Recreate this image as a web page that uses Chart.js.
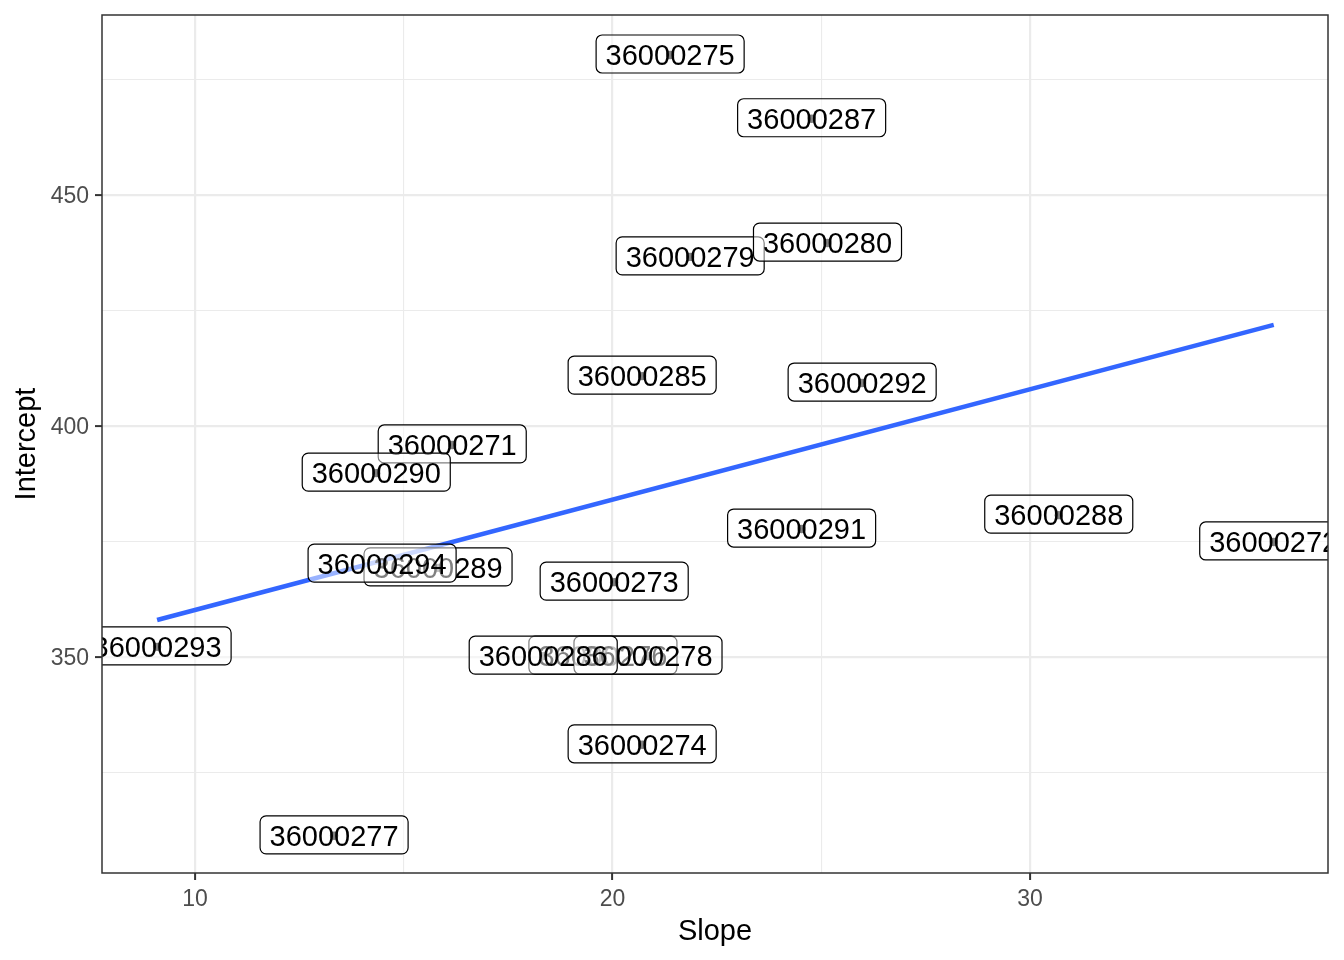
<!DOCTYPE html>
<html>
<head>
<meta charset="utf-8">
<script src="https://cdn.jsdelivr.net/npm/chart.js@4.4.1/dist/chart.umd.min.js"></script>
<style>
  body { margin: 0; background: #fff; }
  canvas { display: block; }
</style>
</head>
<body>
<canvas id="slopeChart" width="1344" height="960"></canvas>
<script>
// one label per station, in id order (later ids are drawn on top)
const ids = [
  '36000271', '36000272', '36000273', '36000274', '36000275',
  '36000276', '36000277', '36000278', '36000279', '36000280',
  '36000285', '36000286', '36000287', '36000288', '36000289',
  '36000290', '36000291', '36000292', '36000293', '36000294'
];
const slopes = [
  16.16, 35.84, 20.04, 20.71, 21.38,
  19.77, 13.33, 20.85, 21.86, 25.15,
  20.71, 18.34, 24.77, 30.69, 15.82,
  14.34, 24.53, 25.98, 9.09, 14.48
];
const intercepts = [
  395.9, 374.9, 366.2, 331.0, 480.3,
  350.2, 311.3, 350.2, 436.6, 439.6,
  410.8, 350.2, 466.5, 380.7, 369.3,
  389.8, 377.7, 409.3, 352.2, 370.1
];

// ends of the fitted line
const fitSlope = [9.09, 35.84];
const fitIntercept = [358.0, 421.9];

const xTicks = [10, 20, 30];
const yTicks = [350, 400, 450];

const FONT = '"Liberation Sans", Arimo, Helvetica, Arial, sans-serif';

function keepFives(step) {
  return function (scale) {
    scale.ticks = scale.ticks.filter(t => Math.abs(t.value / step - Math.round(t.value / step)) < 1e-9);
  };
}

function noPad(scale) {
  scale.paddingTop = 0; scale.paddingBottom = 0;
  scale.paddingLeft = 0; scale.paddingRight = 0;
}

const labelPlugin = {
  id: 'boxLabels',
  afterDatasetsDraw(chart) {
    const ctx = chart.ctx;
    const area = chart.chartArea;
    const meta = chart.getDatasetMeta(0);
    ctx.save();
    ctx.beginPath();
    ctx.rect(area.left, area.top, area.right - area.left, area.bottom - area.top);
    ctx.clip();
    ctx.font = '29px ' + FONT;
    ctx.textAlign = 'center';
    ctx.textBaseline = 'middle';
    meta.data.forEach((pt, i) => {
      const text = ids[i];
      const w = ctx.measureText(text).width + 19;
      const h = 38;
      ctx.beginPath();
      ctx.roundRect(pt.x - w / 2, pt.y - h / 2 - 1, w, h, 6);
      ctx.fillStyle = 'rgba(255,255,255,0.5)';
      ctx.fill();
      ctx.lineWidth = 1.2;
      ctx.strokeStyle = '#000';
      ctx.stroke();
      ctx.fillStyle = '#000';
      ctx.fillText(text, pt.x, pt.y + 2);
    });
    ctx.restore();
  },
  afterDraw(chart) {
    const ctx = chart.ctx;
    const a = chart.chartArea;
    ctx.save();
    ctx.strokeStyle = '#333333';
    ctx.lineWidth = 1.5;
    ctx.strokeRect(a.left, a.top, a.right - a.left, a.bottom - a.top);
    ctx.restore();
  }
};

const chart = new Chart(document.getElementById('slopeChart'), {
  type: 'scatter',
  data: {
    datasets: [{
      label: 'stations',
      data: slopes.map((s, i) => ({ x: s, y: intercepts[i] })),
      backgroundColor: '#000',
      borderWidth: 0,
      pointRadius: 4.2,
      order: 2
    }, {
      type: 'line',
      label: 'fit',
      data: fitSlope.map((s, i) => ({ x: s, y: fitIntercept[i] })),
      borderColor: '#3366FF',
      borderWidth: 4.5,
      pointRadius: 0,
      fill: false,
      order: 1
    }]
  },
  options: {
    responsive: false,
    devicePixelRatio: 1,
    animation: false,
    layout: { padding: { top: 15, right: 16, left: 0, bottom: 0 } },
    plugins: {
      legend: { display: false },
      tooltip: { enabled: false }
    },
    scales: {
      x: {
        type: 'linear',
        min: 7.77,
        max: 37.14,
        afterBuildTicks: keepFives(5),
        afterFit(scale) { scale.height = 87; noPad(scale); },
        border: { display: false },
        grid: {
          color: '#EBEBEB',
          lineWidth: c => (xTicks.includes(c.tick.value) ? 2.2 : 1.1),
          tickColor: c => (xTicks.includes(c.tick.value) ? '#333333' : 'rgba(0,0,0,0)'),
          tickLength: 7,
          tickWidth: 2
        },
        ticks: {
          stepSize: 5,
          padding: 6,
          maxRotation: 0,
          autoSkip: false,
          color: '#4D4D4D',
          font: { family: FONT, size: 23 },
          callback: v => (xTicks.includes(v) ? String(v) : '')
        },
        title: {
          display: true,
          text: 'Slope',
          color: '#000',
          font: { family: FONT, size: 29, lineHeight: 1 },
          padding: { top: 0, bottom: 14 }
        }
      },
      y: {
        type: 'linear',
        min: 303.25,
        max: 488.96,
        afterBuildTicks: keepFives(25),
        afterFit(scale) { scale.width = 102; noPad(scale); },
        border: { display: false },
        grid: {
          color: '#EBEBEB',
          lineWidth: c => (yTicks.includes(c.tick.value) ? 2.2 : 1.1),
          tickColor: c => (yTicks.includes(c.tick.value) ? '#333333' : 'rgba(0,0,0,0)'),
          tickLength: 7,
          tickWidth: 2
        },
        ticks: {
          stepSize: 25,
          padding: 6,
          labelOffset: 2,
          autoSkip: false,
          color: '#4D4D4D',
          font: { family: FONT, size: 23 },
          callback: v => (yTicks.includes(v) ? String(v) : '')
        },
        title: {
          display: true,
          text: 'Intercept',
          color: '#000',
          font: { family: FONT, size: 29, lineHeight: 1 },
          padding: { top: 12, bottom: 0 }
        }
      }
    }
  },
  plugins: [labelPlugin]
});
</script>
</body>
</html>
